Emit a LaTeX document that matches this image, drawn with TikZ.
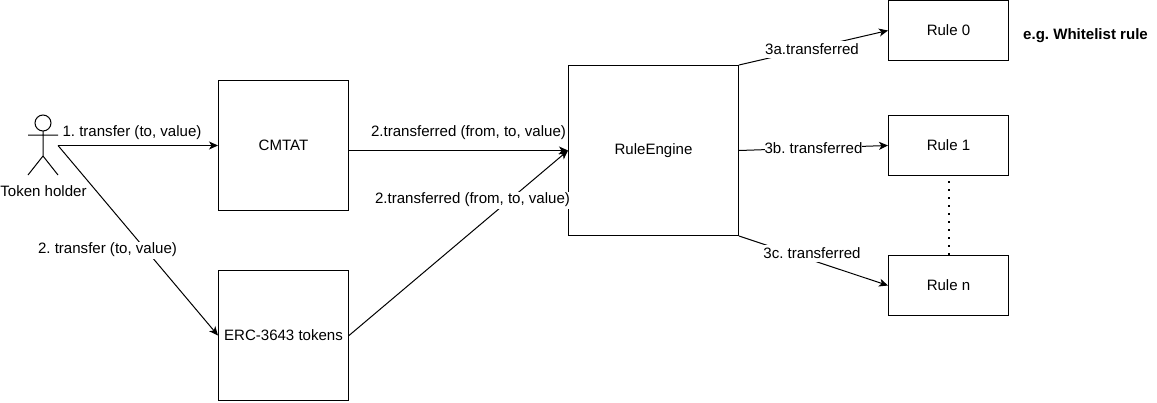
\documentclass[tikz,border=0pt]{standalone}
\usepackage{fontspec}
\setmainfont{Liberation Sans}
\usetikzlibrary{arrows.meta}
\tikzset{
  x=1pt,y=-1pt,
  every node/.style={font=\fontsize{15.05}{17}\selectfont\frenchspacing,text=black},
  box/.style={draw=black,line width=1pt,fill=white,minimum width=#1,inner sep=0pt,anchor=center},
  conn/.style={draw=black,line width=1pt,-{Stealth[length=9pt,width=8pt,inset=2.5pt]}},
  lbl/.style={fill=white,inner xsep=0pt,inner ysep=0pt,minimum height=17pt,anchor=center},
  plain/.style={inner sep=0pt,anchor=center},
  actor/.style={draw=black,line width=1pt}
}
\begin{document}
\begin{tikzpicture}
\useasboundingbox (0,0) rectangle (1157,402);
\fill[white] (0,0) rectangle (1157,402);
% boxes
\node[box=130pt,minimum height=130pt] (cmtat) at (283.5,145.5) {CMTAT};
\node[box=130pt,minimum height=130pt] (erc) at (283.5,335.5) {ERC-3643 tokens};
\node[box=170pt,minimum height=170pt] (re) at (653.5,150.5) {RuleEngine};
\node[box=120pt,minimum height=60pt] (r0) at (948.5,30.5) {Rule 0};
\node[box=120pt,minimum height=60pt] (r1) at (948.5,145.5) {Rule 1};
\node[box=120pt,minimum height=60pt] (rn) at (948.5,285.5) {Rule n};
% actor
\draw[actor] (43,123) circle (8);
\draw[actor] (43,131) -- (43,156) (28,135) -- (58,135) (28,175) -- (43,156) -- (58,175);
\coordinate (holder) at (58,145.5);
\node[plain] (hl) at (43.5,191) {Token holder};
% connectors
\draw[conn] (holder) -- (cmtat.west);
\draw[conn] (holder) -- (erc.west);
\draw[conn] ([yshift=-5pt]cmtat.east) -- (re.west);
\draw[conn] (erc.east) -- (re.west);
\draw[conn] (re.north east) -- (r0.west);
\draw[conn] (re.east) -- (r1.west);
\draw[conn] (re.south east) -- (rn.west);
\draw[black,line width=2pt,dash pattern=on 2pt off 6pt] ([yshift=-5pt]r1.south) -- (rn.north);
% labels
\node[plain] (l1) at (132,133) {1. transfer (to, value)};
\node[lbl] (l2) at (107.5,250) {2. transfer (to, value)};
\node[plain] (l3) at (468.5,133) {2.transferred (from, to, value)};
\node[lbl] (l4) at (472.5,200) {2.transferred (from, to, value)};
\node[lbl] (l5) at (812,49) {3a.transferred};
\node[lbl] (l6) at (813.5,148) {3b. transferred};
\node[lbl] (l7) at (812,253.5) {3c. transferred};
\node[plain,font=\fontsize{15.05}{17}\selectfont\bfseries\frenchspacing] (eg) at (1085.5,36) {e.g. Whitelist rule};
\end{tikzpicture}
\end{document}
